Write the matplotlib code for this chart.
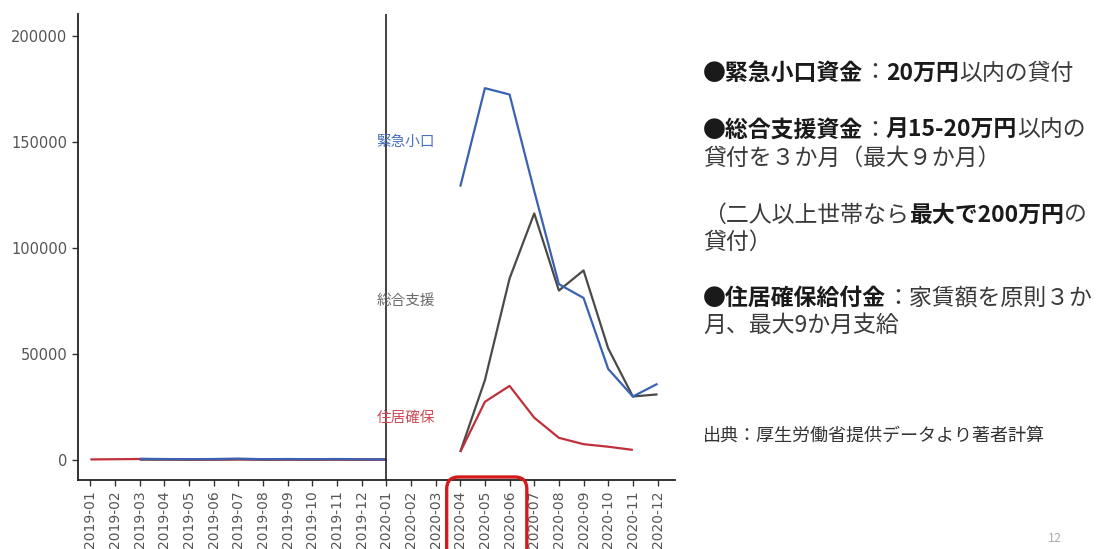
import numpy as np
import matplotlib
matplotlib.use("Agg")
import matplotlib.pyplot as plt
from matplotlib.patches import FancyBboxPatch
from matplotlib.transforms import IdentityTransform

plt.rcParams["font.family"] = ["Noto Sans CJK JP", "DejaVu Sans"]

nan = np.nan

months = [
    "2019-01", "2019-02", "2019-03", "2019-04", "2019-05", "2019-06",
    "2019-07", "2019-08", "2019-09", "2019-10", "2019-11", "2019-12",
    "2020-01", "2020-02", "2020-03", "2020-04", "2020-05", "2020-06",
    "2020-07", "2020-08", "2020-09", "2020-10", "2020-11", "2020-12",
]

# 緊急小口資金 (件数)
kinkyu = [nan, nan, 600, 500, 400, 500, 700, 400, 500, 400, 500, 400,
          300, nan, nan, 129000, 175500, 172500, 127000, 83000, 76500,
          43000, 30000, 36000]
# 総合支援資金
sougou = [nan, nan, 200, 200, 200, 200, 300, 200, 200, 200, 200, 200,
          200, nan, nan, 3900, 37700, 85700, 116400, 80000, 89500,
          52700, 30000, 31000]
# 住居確保給付金
jukyo = [300, 400, 500, 400, 300, 300, 400, 300, 300, 300, 300, 300,
         300, nan, nan, 3800, 27500, 35000, 20000, 10500, 7500,
         6300, 4800, nan]

series = [
    ("総合支援", sougou, "#4a4a4a", "#6a6a6a", 75000),
    ("住居確保", jukyo, "#c0303a", "#d04a55", 20000),
    ("緊急小口", kinkyu, "#3a62b3", "#4a6fc0", 150000),
]

fig = plt.figure(figsize=(10.99, 5.49), dpi=100)
ax = fig.add_axes([0.071, 0.1257, 0.543, 0.8488])

x = np.arange(len(months))
for name, vals, color, tcolor, ylab in series:
    ax.plot(x, vals, color=color, lw=1.6, solid_capstyle="butt")
    ax.text(12.78, ylab, name, color=tcolor, fontsize=10.5, ha="center", va="center")

ax.axvline(12, color="#222222", lw=1.2)

ax.set_xlim(-0.5, 23.7)
ax.set_ylim(-9400, 210500)
ax.set_xticks(x)
ax.set_xticklabels(months, rotation=90, family="DejaVu Sans", fontsize=10,
                   color="#555555")
ax.set_yticks([0, 50000, 100000, 150000, 200000])
ax.set_yticklabels(["0", "50000", "100000", "150000", "200000"],
                   family="DejaVu Sans", fontsize=10.5, color="#555555")
for side in ("top", "right"):
    ax.spines[side].set_visible(False)
for side in ("left", "bottom"):
    ax.spines[side].set_linewidth(1.3)
    ax.spines[side].set_color("#222222")
ax.tick_params(length=4, width=1, color="#333333")

# highlight box around the 2020-04 .. 2020-06 tick labels
x0 = ax.transData.transform((15 - 0.55, 0))[0]
x1 = ax.transData.transform((17 + 0.7, 0))[0]
box = FancyBboxPatch((x0, -12), x1 - x0, 84,
                     boxstyle="round,pad=0,rounding_size=12",
                     transform=IdentityTransform(), fill=False,
                     edgecolor="#d41a1a", lw=2.4)
fig.add_artist(box)

# explanatory text on the right
tx = fig.add_axes([0, 0, 1, 1])
tx.axis("off")
tx.set_xlim(0, 1099)
tx.set_ylim(549, 0)


def rich_line(y, parts, size=16.5):
    prev = None
    for text, bold in parts:
        kw = dict(fontsize=size, color="#1a1a1a" if bold else "#3a3a3a",
                  fontweight="bold" if bold else "normal")
        if prev is None:
            prev = tx.text(703, y, text, ha="left", va="center", **kw)
        else:
            prev = tx.annotate(text, xy=(1, 0), xycoords=prev,
                               ha="left", va="bottom", **kw)


rich_line(73, [("●緊急小口資金", True), ("：", False), ("20万円", True),
               ("以内の貸付", False)])
rich_line(130, [("●総合支援資金", True), ("：", False), ("月15-20万円", True),
                ("以内の", False)])
rich_line(158, [("貸付を３か月（最大９か月）", False)])
rich_line(215, [("（二人以上世帯なら", False), ("最大で200万円", True),
                ("の", False)])
rich_line(242, [("貸付）", False)])
rich_line(298, [("●住居確保給付金", True), ("：家賃額を原則３か", False)])
rich_line(325, [("月、最大9か月支給", False)])

tx.text(703, 436, "出典：厚生労働省提供データより著者計算", fontsize=13,
        color="#333333", ha="left", va="center")
tx.text(1055, 538, "12", fontsize=9, color="#aaaaaa", ha="center", va="center")

fig.savefig("out.png", dpi=100)
